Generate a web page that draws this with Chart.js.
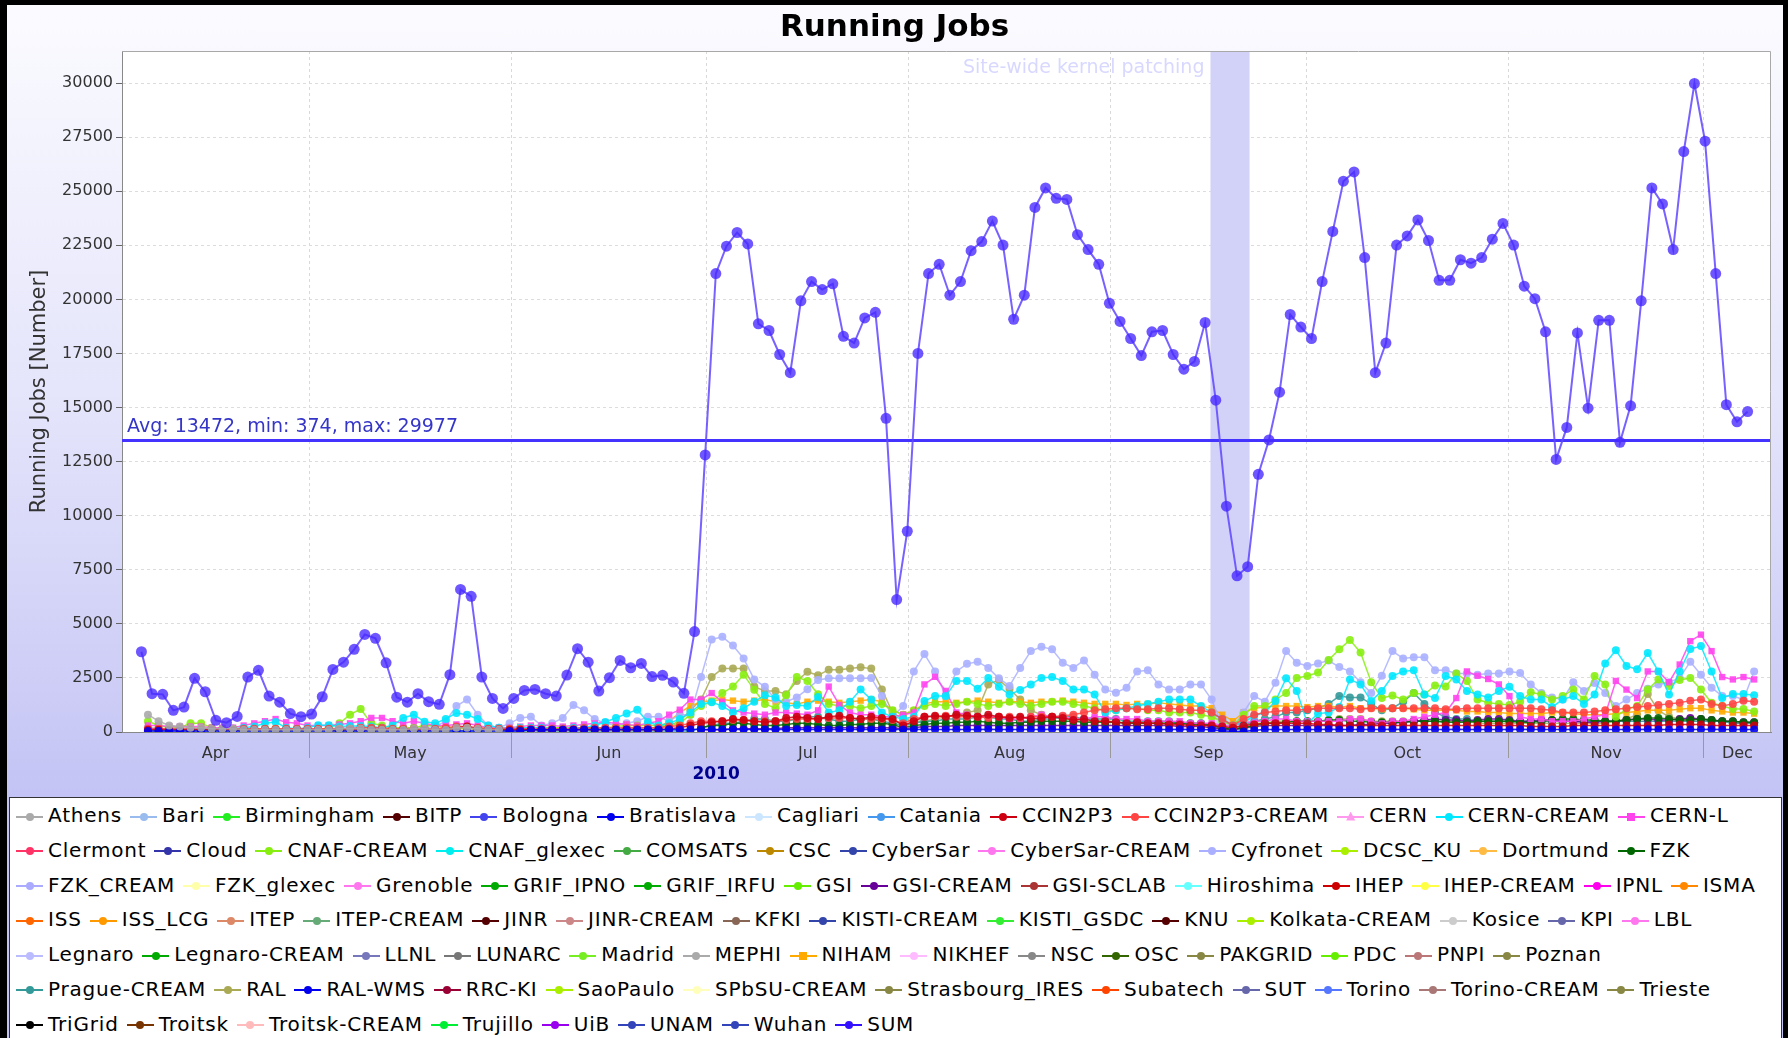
<!DOCTYPE html>
<html>
<head>
<meta charset="utf-8">
<title>Running Jobs</title>
<script src="https://cdn.jsdelivr.net/npm/chart.js@4.4.1/dist/chart.umd.min.js"></script>
<style>
  html, body { margin: 0; padding: 0; width: 1788px; height: 1038px; overflow: hidden; background: #000; }
  #frame {
    position: absolute; left: 7px; top: 5px; width: 1776px; height: 1040px;
    background: linear-gradient(to bottom, #fbfbff 0px, #e4e4fb 400px, #c9c9f6 730px, #c3c3f5 790px);
  }
  #chart { position: absolute; left: 0; top: 0; }
  #legend {
    position: absolute; left: 9px; top: 797px; width: 1773px; height: 260px;
    box-sizing: border-box; padding-left: 6px;
    background: #fff; border: 1px solid #333;
    font-family: 'DejaVu Sans', sans-serif; font-size: 20px; letter-spacing: 0.8px; color: #000;
  }
  .row { height: 34.8px; line-height: 34.8px; white-space: nowrap; }
  .item { display: inline-block; margin-right: 8px; }
  .mark { display: inline-block; position: relative; width: 27px; height: 10px; margin-right: 5px; vertical-align: middle; }
  .mark::before { content: ''; position: absolute; left: 0; right: 0; top: 4px; height: 2px; background: var(--c); }
  .mark i { position: absolute; left: 9.5px; top: 1px; width: 8px; height: 8px; border-radius: 50%; background: var(--c); }
  .mark i.rect { border-radius: 0; }
  .mark i.triangle { border-radius: 0; left: 9px; top: 0; width: 9px; height: 9px; clip-path: polygon(50% 0, 100% 100%, 0 100%); }
</style>
</head>
<body>
<div id="frame"></div>
<canvas id="chart" width="1788" height="795"></canvas>
<div id="legend"></div>
<script>
// time axis: days counted from 1 Apr 2010
const monthNames = ['Apr', 'May', 'Jun', 'Jul', 'Aug', 'Sep', 'Oct', 'Nov', 'Dec']
const monthStartDays = [0, 30, 61, 91, 122, 153, 183, 214, 244, 275]
const yearLabel = '2010'
const yearLabelDay = 92.45
const axisStartDay = 1.3
const axisEndDay = 254.3
const yTickValues = [0, 2500, 5000, 7500, 10000, 12500, 15000, 17500, 20000, 22500, 25000, 27500, 30000]
const yAxisMax = 31480

// SUM bins, the site bins sit one day later
const binStartDay = 4.28
const binStepDays = 1.632
const siteShiftDays = 1.0

const avgJobs = 13472
const minJobs = 374
const maxJobs = 29977
const patchingWindow = [168.3, 174.3]
const patchingLabel = 'Site-wide kernel patching'

const sumJobs = [
  3710,1770,1740,1000,1150,2480,1860,540,430,720,2540,2850,1660,1380,850,710,
  830,1630,2890,3230,3820,4510,4330,3200,1610,1380,1770,1400,1280,2650,6590,6270,2540,1550,1090,
  1550,1920,1970,1770,1660,2630,3850,3230,1890,2510,3310,2970,3170,2560,2620,2310,1790,4640,
  12810,21190,22460,23090,22560,18870,18560,17450,16610,19930,20820,20450,20720,18290,17980,19140,19400,14500,6120,
  9280,17500,21190,21620,20190,20820,22250,22670,23620,22510,19080,20190,24250,25150,24670,24620,22990,22300,21620,
  19820,18980,18190,17400,18500,18560,17450,16770,17130,18930,15340,10440,7220,7640,11910,13500,15710,19300,
  18720,18190,20820,23140,25460,25890,21930,16610,17980,22510,22930,23670,22720,20880,20880,21830,21670,21930,22780,
  23510,22510,20610,20030,18500,12600,14080,18450,14970,19030,19030,13390,15080,19930,25150,24410,22300,26830,29977,
  27310,21190,15130,14340,14810
]

const cyfronetJobs = [
  200,150,150,100,100,100,100,100,100,150,150,150,100,100,100,
  100,150,150,200,200,250,200,150,150,200,200,200,250,500,1200,1500,800,300,200,
  400,650,700,300,400,650,1250,1000,600,400,300,400,500,700,700,500,800,800,
  2540,4280,4400,4000,3400,2430,2090,1500,1400,1600,1980,2400,2480,2480,2480,2480,2500,1660,700,
  1200,2800,3600,2800,1660,2800,3150,3250,2960,2480,2130,2960,3740,3940,3820,3200,2960,3310,2650,
  1960,1820,2050,2800,2850,2200,1960,1960,2200,2200,1500,300,200,900,1660,1400,2280,3740,
  3200,3050,3170,3300,3000,2800,2300,1800,2600,3740,3400,3460,3460,2850,2850,2700,2700,2650,2700,
  2700,2800,2730,2200,1800,1600,1500,2300,1900,2260,1800,1200,1500,1800,2000,2200,2300,2500,3250,
  2650,2050,1660,1660,1500,2800
]

const cernCreamJobs = [
  100,100,100,100,100,100,100,100,150,200,250,400,460,200,150,
  200,310,310,250,280,280,250,200,300,650,800,470,400,600,880,800,600,300,200,
  150,200,200,200,150,150,200,200,300,460,650,850,1030,460,300,400,600,900,
  1300,1380,1200,900,1100,1400,1700,1600,1200,1250,1200,1620,900,1000,1400,1960,1500,900,700,
  600,700,1430,1660,1660,2360,2360,2000,2500,2090,1730,1940,2200,2500,2540,2360,1960,1960,1730,
  900,1000,1100,1200,1300,1400,1500,1500,1500,1200,900,600,300,450,750,900,1430,2480,
  1900,400,850,900,1150,2430,2200,1430,1900,2590,2800,2850,1730,1570,2590,2430,1900,1730,1600,
  1900,2090,1660,1500,1500,1150,1500,1660,1300,1730,3170,3780,3050,2900,3650,2800,1730,2800,3840,
  3970,2800,1570,1760,1760,1700
]

const cernLJobs = [
  300,300,250,250,250,250,200,200,200,300,400,500,600,450,400,
  300,300,300,350,400,500,650,650,500,400,500,400,300,300,350,400,300,200,200,
  200,250,300,300,300,250,300,350,400,450,400,350,300,400,500,800,1030,1500,
  1500,1800,1400,1000,900,850,800,900,900,850,800,1000,2100,1250,900,800,800,700,700,
  800,900,2200,2550,1900,900,800,700,700,700,600,600,700,800,700,700,600,600,700,
  700,600,600,600,500,500,500,500,400,400,400,300,300,400,500,500,600,600,
  500,500,500,500,500,600,600,500,400,500,500,600,700,800,900,1570,2800,2600,2450,
  2200,1660,700,600,600,500,500,500,600,700,800,2360,1960,1570,2800,2800,2300,3120,4200,
  4500,3740,2540,2430,2540,2430
]

const cnafCreamJobs = [
  500,300,200,200,400,400,200,100,100,100,100,150,150,100,100,
  100,100,200,400,800,1060,400,300,200,200,200,300,300,200,200,200,200,150,150,
  150,150,200,200,200,200,200,200,200,200,250,300,300,300,300,300,400,800,
  1200,1400,1800,2100,2650,1950,1300,1100,1700,2540,2360,1750,1300,1200,1200,1100,1200,1300,1000,
  800,1000,1200,1300,1200,1300,1400,1300,1200,1300,1400,1300,1200,1300,1400,1400,1300,1200,1100,
  1000,1000,1100,1100,1000,1000,900,900,900,800,700,500,300,800,1200,1200,1500,1800,
  2500,2590,2750,3330,3820,4250,3680,2300,1570,1690,1500,1800,1730,2150,2100,2700,2360,1500,1350,
  1300,1250,1400,1840,1730,1500,1660,1960,1500,2590,2200,700,1070,1200,1960,2430,2130,2400,2500,
  1960,1350,1200,1060,1060,950
]

const ralJobs = [
  200,150,100,100,100,100,100,100,100,100,100,100,100,100,100,
  100,100,100,100,150,200,200,150,100,100,100,100,100,100,150,150,100,100,100,
  100,100,100,100,100,100,100,150,150,150,150,150,200,200,200,300,500,1000,
  1500,2540,2930,2930,2930,2100,1900,1900,1750,2360,2780,2620,2880,2880,2930,2990,2930,1970,900,
  600,500,500,600,700,800,900,1000,2200,2400,2000,1500,1000,800,700,600,600,500,500,
  500,500,400,400,400,400,400,400,400,400,300,200,200,300,400,400,500,500,
  500,500,500,500,600,600,600,500,500,500,500,500,500,500,500,500,500,400,400,
  400,400,400,400,400,400,400,400,400,400,400,500,600,800,1760,1000,700,600,600,
  600,500,500,400,400,400
]

const nihamJobs = [
  null,null,null,null,null,null,null,null,null,null,null,null,null,null,null,
  null,null,null,null,null,null,null,null,null,null,null,null,null,null,null,null,null,null,null,
  null,null,null,null,null,null,null,null,null,null,null,null,null,null,200,500,900,1200,
  1400,1450,1500,1450,1400,1450,1500,1400,1350,1300,1400,1450,1400,1350,1400,1450,1500,1400,1000,
  800,1000,1300,1400,1400,1350,1400,1450,1400,1350,1400,1400,1350,1400,1400,1450,1400,1350,1300,
  1300,1300,1250,1300,1300,1350,1300,1250,1200,1200,1100,800,500,900,1100,1150,1200,1200,
  1200,1150,1200,1200,1150,1200,1100,1100,1050,1100,1100,1050,1000,1000,1000,1000,950,950,900,
  900,850,850,850,850,900,900,850,800,800,800,850,900,950,1000,1000,1000,1050,1100,
  1100,1000,950,900,900,850
]

const ccin2p3CreamJobs = [
  150,150,150,150,150,150,150,150,150,150,150,150,150,150,150,
  150,150,150,150,150,200,200,200,150,150,150,150,150,200,250,250,200,150,150,
  150,150,150,150,150,150,150,200,200,200,200,200,200,200,200,250,300,400,
  500,500,500,550,550,500,500,500,550,600,600,600,650,650,650,600,600,600,550,
  400,600,700,700,750,700,700,700,650,700,700,650,700,700,700,750,800,900,1000,
  1050,1100,1100,1050,1050,1100,1100,1050,1000,1000,900,600,300,600,800,900,950,1000,
  1000,1050,1100,1100,1100,1100,1050,1100,1100,1100,1100,1100,1100,1100,1050,1050,1100,1100,1100,
  1100,1100,1100,1100,1050,1000,900,900,900,950,1000,1050,1100,1150,1200,1250,1300,1350,1450,
  1500,1300,1200,1300,1450,1400
]

const ccin2p3Jobs = [
  100,100,100,100,100,100,100,100,100,100,100,100,100,100,100,
  100,100,100,100,100,100,100,100,100,100,100,100,100,100,200,250,150,100,100,
  100,100,100,100,100,100,100,100,100,100,100,100,100,100,100,150,200,300,
  400,450,500,600,550,500,450,500,650,700,650,600,700,750,650,600,700,650,600,
  300,500,700,750,700,800,750,700,800,700,650,700,600,650,700,650,550,600,500,
  500,450,400,450,400,400,350,350,300,300,300,250,200,300,350,400,400,400,
  400,400,350,350,300,300,300,300,300,300,300,300,300,300,300,300,300,300,300,
  300,300,300,250,250,250,250,300,300,300,300,300,300,300,300,300,350,350,350,
  350,300,300,300,300,300
]

const pragueCreamJobs = [
  50,50,50,50,50,50,50,50,50,50,50,50,50,50,50,
  50,50,50,50,50,50,50,50,50,50,50,50,50,50,50,50,50,50,50,
  50,50,50,50,50,50,50,50,50,50,50,50,50,50,50,50,50,50,
  200,300,400,400,500,600,600,500,500,600,700,700,600,500,500,600,600,500,400,
  300,400,500,500,600,600,600,700,700,600,600,500,500,600,600,700,700,600,600,
  600,600,500,500,500,500,500,400,400,400,300,200,100,300,500,600,700,900,
  900,1000,1100,1300,1660,1600,1600,1300,1000,1100,1400,1800,1300,900,700,600,600,500,500,
  500,500,500,500,500,500,500,500,500,500,500,500,500,500,500,500,500,500,500,
  500,500,500,400,400,400
]

const gsiCreamJobs = [
  null,null,null,null,null,null,null,null,null,null,null,null,null,null,null,
  null,null,null,null,null,null,null,null,null,null,null,null,null,null,null,null,null,null,null,
  null,null,null,null,null,null,null,null,null,null,null,null,null,null,null,null,null,null,
  100,100,100,150,150,150,150,150,200,200,200,200,200,200,200,200,200,200,200,
  150,200,250,250,250,300,300,300,300,300,300,300,300,300,300,300,300,300,300,
  300,300,300,300,300,300,300,250,250,250,200,150,100,200,250,300,300,300,
  300,300,300,300,300,300,350,350,400,400,450,500,550,600,550,550,500,550,600,
  600,550,500,500,550,550,500,500,450,450,500,500,550,600,600,550,550,600,650,
  600,550,500,500,450,450
]

const fzkJobs = [
  null,null,null,null,null,null,null,null,null,null,null,null,null,null,null,
  null,null,null,null,null,null,null,null,null,null,null,null,null,null,null,null,null,null,null,
  null,null,null,null,null,null,null,null,null,null,null,null,null,null,null,null,null,null,
  200,300,300,400,400,350,300,300,350,400,400,350,300,300,350,350,400,400,350,
  200,300,350,400,400,450,450,500,450,400,400,450,450,500,500,500,500,450,450,
  450,450,400,400,400,400,400,400,350,350,300,200,100,200,300,400,400,450,
  500,500,500,550,550,500,500,450,450,450,450,500,500,500,450,450,450,500,500,
  500,500,450,450,500,550,600,600,550,550,500,500,550,600,650,650,600,550,550,
  600,550,500,500,450,450
]

const bratislavaJobs = [
  50,50,50,50,50,50,50,50,50,50,50,50,50,50,50,
  50,50,50,50,50,50,50,50,50,50,50,50,50,50,50,50,50,50,50,
  50,50,100,100,100,100,100,120,120,120,120,120,120,120,120,120,120,120,
  120,110,120,130,120,120,110,120,120,130,120,120,110,120,120,130,120,120,110,
  120,120,130,120,120,110,120,120,130,120,120,110,120,120,130,120,120,110,120,
  120,130,120,120,110,120,120,130,120,120,100,60,20,20,80,120,120,120,
  120,110,120,130,120,120,110,120,120,130,120,120,110,120,120,130,120,120,110,
  120,120,130,120,120,110,120,120,130,120,120,110,120,120,130,120,120,110,120,
  120,130,120,120,110,120
]

const athensJobs = [
  800,500,300,250,200,200,150,150,150,100,100,100,100,100,100,
  100,100,100,150,150,150,100,100,100,100,150,150,100,100,200,200,150,100,100
]

const siteNames = [
  'Athens','Bari','Birmingham','BITP','Bologna','Bratislava','Cagliari','Catania','CCIN2P3','CCIN2P3-CREAM','CERN','CERN-CREAM','CERN-L',
  'Clermont','Cloud','CNAF-CREAM','CNAF_glexec','COMSATS','CSC','CyberSar','CyberSar-CREAM','Cyfronet','DCSC_KU','Dortmund','FZK',
  'FZK_CREAM','FZK_glexec','Grenoble','GRIF_IPNO','GRIF_IRFU','GSI','GSI-CREAM','GSI-SCLAB','Hiroshima','IHEP','IHEP-CREAM','IPNL','ISMA',
  'ISS','ISS_LCG','ITEP','ITEP-CREAM','JINR','JINR-CREAM','KFKI','KISTI-CREAM','KISTI_GSDC','KNU','Kolkata-CREAM','Kosice','KPI','LBL',
  'Legnaro','Legnaro-CREAM','LLNL','LUNARC','Madrid','MEPHI','NIHAM','NIKHEF','NSC','OSC','PAKGRID','PDC','PNPI','Poznan',
  'Prague-CREAM','RAL','RAL-WMS','RRC-KI','SaoPaulo','SPbSU-CREAM','Strasbourg_IRES','Subatech','SUT','Torino','Torino-CREAM','Trieste',
  'TriGrid','Troitsk','Troitsk-CREAM','Trujillo','UiB','UNAM','Wuhan','SUM'
]
const siteColors = [
  '#aaaaaa','#99bbee','#22ee22','#550000','#4444ee','#0000ee','#cce6ff','#4499ee','#cc0011','#ff4444','#ff99ee','#00e8ff','#ff44ee',
  '#ff3366','#3333aa','#88ee11','#00eeee','#44aa44','#bb8800','#3344aa','#ff77ee','#aab0ff','#aaee00','#ffbb44','#006600',
  '#aaaaff','#ffffaa','#ff77ee','#00aa00','#00aa00','#66ee00','#660099','#aa3333','#66ffff','#cc0000','#ffff44','#ff00ee','#ff8800',
  '#ff6600','#ff9900','#dd8866','#66aa77','#550000','#cc8888','#886655','#3344aa','#33ee33','#550000','#aaee00','#cccccc','#6666aa','#ff77ee',
  '#bbbbff','#00aa00','#7777bb','#777777','#77ee22','#aaaaaa','#ffaa00','#ffbbff','#888888','#336600','#888844','#66ee00','#bb7777','#888844',
  '#339999','#aaaa55','#0000ee','#990033','#aaee00','#ffffbb','#888844','#ff4400','#6666aa','#5577ff','#aa7777','#888844',
  '#000000','#773300','#ffbbbb','#00ee33','#9900ee','#3344bb','#3344bb','#3311ff'
]
const siteMarkers = { 'CERN': 'triangle', 'CERN-L': 'rect', 'NIHAM': 'rect' }
const legendRowStarts = ['Clermont', 'FZK_CREAM', 'ISS', 'Legnaro', 'Prague-CREAM', 'TriGrid']

const siteSeries = {
  'Athens': athensJobs,
  'Bratislava': bratislavaJobs,
  'CCIN2P3': ccin2p3Jobs,
  'CCIN2P3-CREAM': ccin2p3CreamJobs,
  'CERN-CREAM': cernCreamJobs,
  'CERN-L': cernLJobs,
  'CNAF-CREAM': cnafCreamJobs,
  'Cyfronet': cyfronetJobs,
  'FZK': fzkJobs,
  'GSI-CREAM': gsiCreamJobs,
  'NIHAM': nihamJobs,
  'Prague-CREAM': pragueCreamJobs,
  'RAL': ralJobs
}

const fontFamily = "'DejaVu Sans', sans-serif"

function withAlpha(hex, a) {
  const n = parseInt(hex.slice(1), 16)
  return 'rgba(' + (n >> 16) + ',' + ((n >> 8) & 255) + ',' + (n & 255) + ',' + a + ')'
}

// x ticks: month borders (grid + long tick), month names centred in the visible part, the year
const borderTicks = monthStartDays.filter(d => d > axisStartDay && d < axisEndDay)
const nameTicks = monthNames.map((m, i) => {
  const a = Math.max(monthStartDays[i], axisStartDay)
  const b = Math.min(monthStartDays[i + 1], axisEndDay)
  return (a + b) / 2
})
const xTickValues = borderTicks.concat(nameTicks, [yearLabelDay]).sort((a, b) => a - b)

let datasets = []
datasets.push({
  label: 'SUM',
  data: sumJobs.map((v, i) => ({ x: binStartDay + i * binStepDays, y: v })),
  borderColor: 'rgba(95,70,255,0.85)',
  borderWidth: 2,
  pointRadius: 5.5,
  pointBorderWidth: 0,
  pointBackgroundColor: 'rgba(70,40,255,0.78)',
  order: 0
})
datasets.push({
  label: 'avg',
  data: [{ x: axisStartDay, y: avgJobs }, { x: axisEndDay, y: avgJobs }],
  borderColor: '#4433ff',
  borderWidth: 3,
  pointRadius: 0,
  order: 1
})
siteNames.forEach((name, i) => {
  const values = siteSeries[name]
  if (!values) return
  datasets.push({
    label: name,
    data: values.map((v, j) => ({ x: binStartDay + siteShiftDays + j * binStepDays, y: v })),
    borderColor: withAlpha(siteColors[i], 0.85),
    borderWidth: 1.5,
    pointStyle: siteMarkers[name] === 'rect' ? 'rect' : 'circle',
    pointRadius: siteMarkers[name] === 'rect' ? 4.5 : 4,
    pointBorderWidth: 0,
    pointBackgroundColor: withAlpha(siteColors[i], 0.9),
    order: 2
  })
})

// plot background, maintenance band, avg label and frame
const decor = {
  id: 'decor',
  beforeDraw(chart) {
    const { ctx, chartArea: a } = chart
    ctx.save()
    ctx.fillStyle = '#ffffff'
    ctx.fillRect(a.left, a.top, a.right - a.left, a.bottom - a.top)
    ctx.restore()
  },
  beforeDatasetsDraw(chart) {
    const { ctx, chartArea: a, scales } = chart
    const x0 = scales.x.getPixelForValue(patchingWindow[0])
    const x1 = scales.x.getPixelForValue(patchingWindow[1])
    ctx.save()
    ctx.fillStyle = 'rgb(210,210,248)'
    ctx.fillRect(x0, a.top, x1 - x0, a.bottom - a.top)
    ctx.font = '19px ' + fontFamily
    ctx.fillStyle = '#d8d8ff'
    ctx.textAlign = 'right'
    ctx.textBaseline = 'alphabetic'
    ctx.fillText(patchingLabel, x0 - 6, a.top + 22)
    ctx.restore()
  },
  afterDatasetsDraw(chart) {
    const { ctx, chartArea: a, scales } = chart
    const yAvg = scales.y.getPixelForValue(avgJobs)
    ctx.save()
    ctx.font = '19px ' + fontFamily
    ctx.fillStyle = '#3535c8'
    ctx.textAlign = 'left'
    ctx.textBaseline = 'alphabetic'
    ctx.fillText('Avg: ' + avgJobs + ', min: ' + minJobs + ', max: ' + maxJobs, a.left + 5, yAvg - 9)
    ctx.strokeStyle = '#a8a8a8'
    ctx.lineWidth = 1
    ctx.beginPath()
    ctx.moveTo(a.left, a.top + 0.5)
    ctx.lineTo(a.right - 0.5, a.top + 0.5)
    ctx.lineTo(a.right - 0.5, a.bottom)
    ctx.stroke()
    ctx.restore()
  }
}

new Chart(document.getElementById('chart'), {
  type: 'line',
  data: { datasets: datasets },
  options: {
    responsive: false,
    animation: false,
    devicePixelRatio: 1,
    layout: { padding: { left: 18, right: 17, top: 0, bottom: 3 } },
    plugins: {
      legend: { display: false },
      tooltip: { enabled: false },
      title: {
        display: true,
        text: 'Running Jobs',
        color: '#000',
        font: { family: fontFamily, size: 31, weight: 'bold', lineHeight: 1.2 },
        padding: { top: 9, bottom: 4.8 }
      }
    },
    scales: {
      x: {
        type: 'linear',
        min: axisStartDay,
        max: axisEndDay,
        afterBuildTicks: (scale) => { scale.ticks = xTickValues.map(v => ({ value: v })) },
        afterFit: (scale) => { scale.height = 60 },
        ticks: {
          autoSkip: false,
          maxRotation: 0,
          minRotation: 0,
          padding: -14,
          callback: (value) => {
            if (value === yearLabelDay) return ['', yearLabel]
            const k = nameTicks.indexOf(value)
            return k >= 0 ? monthNames[k] : ''
          },
          font: (c) => c.tick && c.tick.value === yearLabelDay
            ? { family: fontFamily, size: 17, weight: 'bold', lineHeight: 1.2 }
            : { family: fontFamily, size: 16 },
          color: (c) => c.tick && c.tick.value === yearLabelDay ? '#000090' : '#333'
        },
        grid: {
          color: (c) => c.tick && borderTicks.includes(c.tick.value) ? '#d9d9d9' : 'rgba(0,0,0,0)',
          tickColor: (c) => c.tick && borderTicks.includes(c.tick.value) ? '#999' : 'rgba(0,0,0,0)',
          tickLength: 26,
          tickBorderDash: []
        },
        border: { color: '#888', dash: [3, 3] }
      },
      y: {
        min: 0,
        max: yAxisMax,
        afterBuildTicks: (scale) => { scale.ticks = yTickValues.map(v => ({ value: v })) },
        afterFit: (scale) => { scale.width = 104 },
        ticks: {
          padding: 3,
          color: '#333',
          font: { family: fontFamily, size: 16 },
          callback: (value) => String(value)
        },
        grid: { color: '#dcdcdc', tickColor: '#666', tickLength: 6, tickBorderDash: [] },
        border: { color: '#888', dash: [3, 3] },
        title: {
          display: true,
          text: 'Running Jobs [Number]',
          color: '#333',
          font: { family: fontFamily, size: 21 },
          padding: { top: 9, bottom: 0 }
        }
      }
    }
  },
  plugins: [decor]
})

// legend below the plot, same rows as the original
const legendBox = document.getElementById('legend')
let row = null
siteNames.forEach((name, i) => {
  if (i === 0 || legendRowStarts.includes(name)) {
    row = document.createElement('div')
    row.className = 'row'
    legendBox.appendChild(row)
  }
  const item = document.createElement('span')
  item.className = 'item'
  const mark = document.createElement('span')
  mark.className = 'mark'
  mark.style.setProperty('--c', siteColors[i])
  const dot = document.createElement('i')
  if (siteMarkers[name]) dot.className = siteMarkers[name]
  mark.appendChild(dot)
  item.appendChild(mark)
  item.appendChild(document.createTextNode(name))
  row.appendChild(item)
})
</script>
</body>
</html>
